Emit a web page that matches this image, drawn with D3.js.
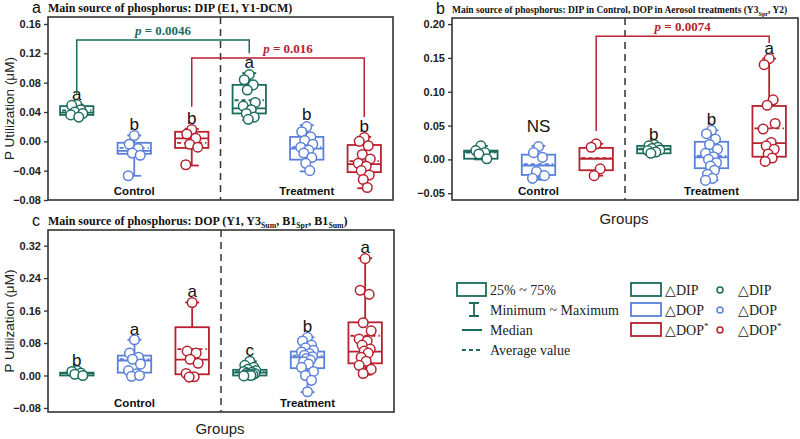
<!DOCTYPE html>
<html><head><meta charset="utf-8">
<script src="https://cdn.jsdelivr.net/npm/d3@7"></script>
<style>body{margin:0;background:#fff}</style>
</head><body>
<svg id="chart" width="800" height="439"></svg>
<script>
// ---------- data ----------
const seriesNames = ["△DIP","△DOP","△DOP*"];
const groupNames = ["Control","Treatment"];
const boxIds = ["cDIP","cDOP","cDOPs","tDIP","tDOP","tDOPs"];
const colors = ["#1c6b5d","#5b80da","#b8212e"];

// Panel a
const aMin  = [0.033,-0.047,-0.033, 0.029,-0.041,-0.064];
const aQ1   = [0.036,-0.017,-0.009, 0.038,-0.025,-0.042];
const aMed  = [0.039,-0.013, 0.004, 0.045,-0.010,-0.031];
const aQ3   = [0.048,-0.002, 0.013, 0.077, 0.006,-0.005];
const aMax  = [0.050, 0.008, 0.017, 0.093, 0.022, 0.006];
const aMean = [0.042,-0.009,-0.002, 0.056,-0.008,-0.027];
const aPoints = [
  [0.050,0.049,0.043,0.040,0.038,0.036,0.033],
  [0.008,-0.004,-0.010,-0.016,-0.019,-0.047],
  [0.016,0.010,0.004,-0.004,-0.008,-0.032],
  [0.091,0.084,0.077,0.070,0.053,0.048,0.043,0.038,0.033,0.030],
  [0.020,0.013,0.006,0.001,-0.004,-0.008,-0.012,-0.016,-0.022,-0.030,-0.040],
  [0.005,0.000,-0.006,-0.018,-0.024,-0.030,-0.034,-0.040,-0.046,-0.052,-0.063]
];
const aLetters = ["a","b","b","a","b","b"];
const aTicks = [-0.08,-0.04,0,0.04,0.08,0.12,0.16];

// Panel b
const bMin  = [0.000,-0.030,-0.024, 0.008,-0.031,-0.003];
const bQ1   = [0.001,-0.023,-0.016, 0.009,-0.013, 0.004];
const bMed  = [0.011,-0.009, 0.001, 0.015, 0.003, 0.024];
const bQ3   = [0.013, 0.007, 0.017, 0.020, 0.026, 0.079];
const bMax  = [0.020, 0.020, 0.023, 0.022, 0.043, 0.149];
const bMean = [0.010,-0.007, 0.002, 0.016, 0.005, 0.046];
const bPoints = [
  [0.020,0.013,0.010,0.008,0.001],
  [0.019,0.010,0.003,-0.018,-0.024,-0.028],
  [0.023,0.018,-0.014,-0.024],
  [0.022,0.020,0.018,0.016,0.014,0.013,0.011,0.009],
  [0.043,0.038,0.030,0.022,0.015,0.009,0.004,0.000,-0.005,-0.010,-0.016,-0.022,-0.028,-0.031],
  [0.149,0.140,0.088,0.080,0.053,0.045,0.025,0.020,0.015,0.008,0.002,-0.003]
];
const bLetters = ["","NS","","b","b","a"];
const bTicks = [-0.05,0,0.05,0.10,0.15,0.20];

// Panel c
const cMin  = [0.000,-0.004,-0.006,-0.001,-0.041, 0.002];
const cQ1   = [0.000, 0.007, 0.003, 0.000, 0.018, 0.030];
const cMed  = [0.005, 0.037, 0.039, 0.007, 0.045, 0.059];
const cQ3   = [0.007, 0.049, 0.119, 0.014, 0.059, 0.131];
const cMax  = [0.012, 0.088, 0.180, 0.035, 0.094, 0.289];
const cMean = [0.006, 0.040, 0.065, 0.009, 0.049, 0.098];
const cPoints = [
  [0.012,0.010,0.006,0.003,0.000],
  [0.088,0.055,0.045,0.040,0.028,0.012,0.004,-0.002,0.000],
  [0.180,0.060,0.055,0.040,0.030,0.005,-0.003,-0.004],
  [0.035,0.025,0.020,0.015,0.012,0.010,0.008,0.006,0.005,0.003,0.002,0.001,0.000,-0.001],
  [0.094,0.085,0.075,0.068,0.062,0.058,0.054,0.050,0.046,0.042,0.038,0.034,0.028,0.020,0.010,0.000,-0.012,-0.040],
  [0.288,0.210,0.200,0.130,0.110,0.090,0.085,0.075,0.065,0.060,0.055,0.045,0.035,0.025,0.015,0.005]
];
const cLetters = ["b","a","a","c","b","a"];
const cTicks = [-0.08,0,0.08,0.16,0.24,0.32];

// significance brackets: [fromBox, toBox, leftFoot, top, rightFoot, label, colorIndex]
const aBrackets = [
  [0,3,0.063,0.138,0.120,"0.0046",0],
  [2,5,0.047,0.1136,0.033,"0.016",2]
];
const bBrackets = [
  [2,5,0.042,0.182,0.172,"0.0074",2]
];

// ---------- drawing ----------
const svg = d3.select("#chart");
const SANS = "Arial, 'Liberation Sans', sans-serif";
const SERIF = "'Times New Roman', 'Liberation Serif', serif";
const jitter = [0,-5,4,-2,6,-6,2,-3,5,-1,3,-4,1,-6,6,-2,4,0];

function panel(cfg) {
  const g = svg.append("g");
  const x = d3.scaleBand().domain(boxIds).range([cfg.left, cfg.right]).paddingInner(0.42).paddingOuter(0.21);
  const y = d3.scaleLinear().domain(cfg.domain).range([cfg.bottom, cfg.top]);
  const bw = x.bandwidth();
  const cx = i => x(boxIds[i]) + bw / 2;

  // divider
  const mid = (cx(2) + cx(3)) / 2;
  g.append("line").attr("x1", mid).attr("x2", mid).attr("y1", cfg.top).attr("y2", cfg.bottom)
    .attr("stroke", "#333").attr("stroke-width", 1.5).attr("stroke-dasharray", "7,5");

  // axis
  const ax = g.append("g").attr("transform", `translate(${cfg.left},0)`)
    .call(d3.axisLeft(y).tickValues(cfg.ticks).tickSize(4).tickFormat(cfg.fmt));
  ax.select(".domain").remove();
  ax.selectAll("line").attr("stroke", "#333").attr("stroke-width", 1.3);
  ax.selectAll("text").attr("font-family", SANS).attr("font-weight", "bold").attr("font-size", 11).attr("fill", "#222");

  // boxes
  boxIds.forEach((id, i) => {
    const col = colors[i % 3];
    const c = cx(i);
    const bg = g.append("g").attr("stroke", col).attr("stroke-width", 1.8).attr("fill", "none");
    bg.append("line").attr("x1", c).attr("x2", c).attr("y1", y(cfg.max[i])).attr("y2", y(cfg.q3[i]));
    bg.append("line").attr("x1", c).attr("x2", c).attr("y1", y(cfg.q1[i])).attr("y2", y(cfg.min[i]));
    [cfg.max[i], cfg.min[i]].forEach(v => bg.append("line").attr("x1", c - 7).attr("x2", c + 7).attr("y1", y(v)).attr("y2", y(v)));
    bg.append("rect").attr("x", x(id)).attr("width", bw).attr("y", y(cfg.q3[i]))
      .attr("height", Math.max(1, y(cfg.q1[i]) - y(cfg.q3[i])));
    bg.append("line").attr("x1", x(id)).attr("x2", x(id) + bw).attr("y1", y(cfg.med[i])).attr("y2", y(cfg.med[i]));
    bg.append("line").attr("x1", x(id) + 2).attr("x2", x(id) + bw - 2).attr("y1", y(cfg.mean[i])).attr("y2", y(cfg.mean[i]))
      .attr("stroke-dasharray", "4,3");
    g.append("g").selectAll("circle").data(cfg.points[i]).join("circle")
      .attr("cx", (d, k) => c + jitter[k % jitter.length]).attr("cy", d => y(d)).attr("r", 4.8)
      .attr("fill", "#fff").attr("stroke", col).attr("stroke-width", 1.5);
    const L = cfg.letters[i];
    if (L) g.append("text").attr("x", c).attr("y", y(cfg.max[i]) - (L === "NS" ? 14 : 5))
      .attr("text-anchor", "middle").attr("font-family", SANS).attr("font-size", 17).attr("fill", "#111").text(L);
  });

  // group labels
  [1, 4].forEach((i, k) => g.append("text").attr("x", cx(i)).attr("y", cfg.bottom - 5)
    .attr("text-anchor", "middle").attr("font-family", SANS).attr("font-weight", "bold").attr("font-size", 11.5)
    .attr("fill", "#111").text(groupNames[k]));

  // brackets
  (cfg.brackets || []).forEach(b => {
    const col = colors[b[6]];
    const x1 = cx(b[0]), x2 = cx(b[1]);
    g.append("path").attr("d", `M${x1},${y(b[2])}V${y(b[3])}H${x2}V${y(b[4])}`)
      .attr("fill", "none").attr("stroke", col).attr("stroke-width", 1.5);
    const t = g.append("text").attr("x", (x1 + x2) / 2 + (b[5] === "0.016" ? 10 : 0)).attr("y", y(b[3]) - 5)
      .attr("text-anchor", "middle").attr("font-family", SERIF).attr("font-weight", "bold").attr("font-size", 13).attr("fill", col);
    t.append("tspan").attr("font-style", "italic").text("p");
    t.append("tspan").text(" = " + b[5]);
  });

  // frame
  g.append("rect").attr("x", cfg.left).attr("y", cfg.top).attr("width", cfg.right - cfg.left).attr("height", cfg.bottom - cfg.top)
    .attr("fill", "none").attr("stroke", "#333").attr("stroke-width", 1.6);

  // panel letter + title
  g.append("text").attr("x", cfg.left - 16).attr("y", cfg.top - 4).attr("font-family", SANS).attr("font-size", 16)
    .attr("fill", "#111").text(cfg.letter);
  const tt = g.append("text").attr("x", cfg.left).attr("y", cfg.top - 5).attr("font-family", SERIF)
    .attr("font-weight", "bold").attr("font-size", cfg.titleSize).attr("fill", "#111");
  let pendingDy = 0;
  cfg.title.forEach(p => {
    if (typeof p === "string") {
      tt.append("tspan").attr("dy", pendingDy).text(p);
      pendingDy = 0;
    } else {
      tt.append("tspan").attr("font-size", cfg.titleSize * 0.65).attr("dy", 3).text(p.sub);
      pendingDy = -3;
    }
  });

  if (cfg.ylabel) g.append("text").attr("transform", `translate(${cfg.left - 34},${(cfg.top + cfg.bottom) / 2}) rotate(-90)`)
    .attr("text-anchor", "middle").attr("font-family", SANS).attr("font-size", 13.5).attr("fill", "#222").text("P Utilization (μM)");
  if (cfg.xlabel) g.append("text").attr("x", cfg.xlabel[0]).attr("y", cfg.xlabel[1]).attr("text-anchor", "middle")
    .attr("font-family", SANS).attr("font-size", 15).attr("fill", "#222").text("Groups");
}

panel({left: 48, right: 393, top: 17, bottom: 200, domain: [-0.08, 0.1695], ticks: aTicks, fmt: d3.format(".2f"),
  min: aMin, q1: aQ1, med: aMed, q3: aQ3, max: aMax, mean: aMean, points: aPoints, letters: aLetters,
  brackets: aBrackets, letter: "a", titleSize: 12, ylabel: true,
  title: ["Main source of phosphorus: DIP (E1, Y1-DCM)"]});

panel({left: 452, right: 798, top: 18, bottom: 200, domain: [-0.06, 0.209], ticks: bTicks, fmt: d3.format(".2f"),
  min: bMin, q1: bQ1, med: bMed, q3: bQ3, max: bMax, mean: bMean, points: bPoints, letters: bLetters,
  brackets: bBrackets, letter: "b", titleSize: 9.5, xlabel: [624, 224],
  title: ["Main source of phosphorus: DIP in Control, DOP in Aerosol treatments  (Y3", {sub: "Spr"}, ", Y2)"]});

panel({left: 48, right: 394, top: 230, bottom: 412, domain: [-0.09, 0.3586], ticks: cTicks, fmt: d3.format(".2f"),
  min: cMin, q1: cQ1, med: cMed, q3: cQ3, max: cMax, mean: cMean, points: cPoints, letters: cLetters,
  letter: "c", titleSize: 12, ylabel: true, xlabel: [220, 434],
  title: ["Main source of phosphorus: DOP (Y1, Y3", {sub: "Sum"}, ", B1", {sub: "Spr"}, ", B1", {sub: "Sum"}, ")"]});

// ---------- legend ----------
const lg = svg.append("g").attr("font-family", SERIF).attr("font-size", 14).attr("fill", "#222");
const rowsY = [290, 310, 330, 350];
const g0 = colors[0];
lg.append("rect").attr("x", 457).attr("y", rowsY[0] - 7).attr("width", 29).attr("height", 13)
  .attr("fill", "none").attr("stroke", g0).attr("stroke-width", 1.8);
lg.append("path").attr("d", `M469,${rowsY[1]-7}H479M474,${rowsY[1]-7}V${rowsY[1]+6}M469,${rowsY[1]+6}H479`)
  .attr("fill", "none").attr("stroke", g0).attr("stroke-width", 1.8);
lg.append("line").attr("x1", 462).attr("x2", 482).attr("y1", rowsY[2]).attr("y2", rowsY[2]).attr("stroke", g0).attr("stroke-width", 2);
lg.append("line").attr("x1", 462).attr("x2", 482).attr("y1", rowsY[3]).attr("y2", rowsY[3]).attr("stroke", g0)
  .attr("stroke-width", 2).attr("stroke-dasharray", "4,3");
["25% ~ 75%", "Minimum ~ Maximum", "Median", "Average value"].forEach((t, i) =>
  lg.append("text").attr("x", 490).attr("y", rowsY[i] + 5).text(t));

seriesNames.forEach((n, i) => {
  const yy = rowsY[i];
  lg.append("rect").attr("x", 631).attr("y", yy - 7).attr("width", 30).attr("height", 13)
    .attr("fill", "none").attr("stroke", colors[i]).attr("stroke-width", 1.8);
  lg.append("circle").attr("cx", 720).attr("cy", yy).attr("r", 3)
    .attr("fill", "#fff").attr("stroke", colors[i]).attr("stroke-width", 1.5);
  [665, 738].forEach(xx => {
    const t = lg.append("text").attr("x", xx).attr("y", yy + 5);
    t.append("tspan").text(n.replace("*", ""));
    if (n.endsWith("*")) t.append("tspan").attr("font-size", 9).attr("dy", -6).text("*");
  });
});
</script>
</body></html>
